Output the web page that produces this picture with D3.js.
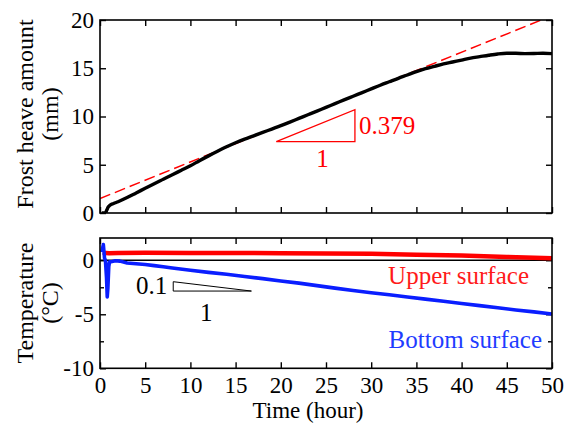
<!DOCTYPE html>
<html>
<head>
<meta charset="utf-8">
<script src="https://cdn.jsdelivr.net/npm/d3@7"></script>
<style>
  html, body { margin: 0; padding: 0; background: #fff; }
  svg { display: block; font-family: "Liberation Serif", "Times New Roman", serif; }
</style>
</head>
<body>
<svg id="chart" width="569" height="426"></svg>
<script>
// ---- data ----
// Frost heave amount (mm) against time (hour)
const heaveTime  = [0.2, 0.6, 0.75, 0.9, 1.1, 1.5, 2, 3, 4, 5, 6, 7, 8, 9, 10, 11, 12, 13, 14, 15, 16, 17, 18, 19, 20, 21, 22, 23, 24, 25, 26, 27, 28, 29, 30, 31, 32, 33, 34, 35, 36, 37, 38, 39, 40, 41, 42, 43, 44, 45, 46, 47, 48, 49, 50];
const heaveValue = [0.0, 0.02, 0.3, 0.6, 0.8, 0.98, 1.17, 1.6, 2.08, 2.56, 3.04, 3.5, 3.96, 4.43, 4.9, 5.42, 5.92, 6.4, 6.86, 7.28, 7.66, 8.0, 8.35, 8.7, 9.05, 9.42, 9.8, 10.18, 10.56, 10.95, 11.33, 11.72, 12.1, 12.48, 12.86, 13.24, 13.6, 13.96, 14.3, 14.65, 14.95, 15.2, 15.45, 15.65, 15.85, 16.05, 16.2, 16.35, 16.48, 16.55, 16.55, 16.52, 16.53, 16.55, 16.52];
// Linear fit of the heave: intercept (mm) and rate (mm/hour)
const fitIntercept = 1.5;
const fitSlope = 0.379;

// Temperatures (°C)
const upperTime  = [0.3, 1, 2, 5, 10, 15, 20, 25, 30, 35, 40, 45, 50];
const upperValue = [0.7, 0.65, 0.68, 0.7, 0.68, 0.68, 0.66, 0.62, 0.6, 0.52, 0.43, 0.3, 0.18];
const bottomTime  = [0.2, 0.37, 0.5, 0.6, 0.72, 0.8, 0.87, 0.97, 1.05, 1.2, 1.7, 2.2, 3, 4, 5, 6, 7, 8, 10, 12, 14, 16, 18, 20, 22, 24, 26, 28, 30, 32, 34, 36, 38, 40, 42, 44, 46, 48, 50];
const bottomValue = [0.75, 1.45, 0.2, 0.0, -1.6, -3.4, -2.6, -0.6, -0.15, -0.15, -0.04, -0.08, -0.25, -0.33, -0.4, -0.5, -0.6, -0.72, -0.93, -1.12, -1.3, -1.5, -1.7, -1.92, -2.12, -2.35, -2.58, -2.8, -3.0, -3.2, -3.4, -3.6, -3.8, -4.0, -4.2, -4.4, -4.6, -4.78, -4.97];
// Cooling rate of the bottom surface (°C/hour)
const coolRate = 0.1;

// Axis ticks
const timeTicks   = [0, 5, 10, 15, 20, 25, 30, 35, 40, 45, 50];
const heaveTicks  = [0, 5, 10, 15, 20];
const tempTicks   = [-10, -5, 0];
const tempMinor   = [-7.5, -2.5];

// ---- layout ----
const svg = d3.select("#chart");
const x = d3.scaleLinear().domain([0, 50]).range([100, 552]);
const yTop = d3.scaleLinear().domain([0, 20]).range([213, 20]);
const yBot = d3.scaleLinear().domain([-10, 2.06]).range([368.3, 238]);

const TICK_FONT = "23px";
const fmt = d => String(d);

function styleAxis(g) {
  g.select(".domain").remove();
  g.selectAll(".tick line").attr("stroke", "#000").attr("stroke-width", 1.4);
  g.selectAll(".tick text").attr("font-size", TICK_FONT).attr("fill", "#000")
    .attr("font-family", "Liberation Serif, Times New Roman, serif");
}

function panel(y, leftTicks, leftMinor, showX) {
  const [y0, y1] = y.range();
  // inward ticks on all four sides
  svg.append("g").attr("transform", `translate(0,${y0})`)
    .call(d3.axisBottom(x).tickValues(timeTicks).tickSize(-6).tickPadding(8)
      .tickFormat(showX ? fmt : () => ""))
    .call(styleAxis);
  svg.append("g").attr("transform", `translate(0,${y1})`)
    .call(d3.axisTop(x).tickValues(timeTicks).tickSize(-6).tickFormat(() => ""))
    .call(styleAxis);
  svg.append("g").attr("transform", `translate(${x.range()[0]},0)`)
    .call(d3.axisLeft(y).tickValues(leftTicks).tickSize(-6).tickPadding(6).tickFormat(fmt))
    .call(styleAxis);
  svg.append("g").attr("transform", `translate(${x.range()[1]},0)`)
    .call(d3.axisRight(y).tickValues(leftTicks).tickSize(-6).tickFormat(() => ""))
    .call(styleAxis);
  if (leftMinor.length) {
    svg.append("g").attr("transform", `translate(${x.range()[0]},0)`)
      .call(d3.axisLeft(y).tickValues(leftMinor).tickSize(-4).tickFormat(() => ""))
      .call(styleAxis);
    svg.append("g").attr("transform", `translate(${x.range()[1]},0)`)
      .call(d3.axisRight(y).tickValues(leftMinor).tickSize(-4).tickFormat(() => ""))
      .call(styleAxis);
  }
}

function frame(y) {
  const [y0, y1] = y.range();
  svg.append("rect")
    .attr("x", x.range()[0]).attr("y", y1)
    .attr("width", x.range()[1] - x.range()[0]).attr("height", y0 - y1)
    .attr("fill", "none").attr("stroke", "#000").attr("stroke-width", 1.6);
}

function clipFor(id, y) {
  const [y0, y1] = y.range();
  svg.append("clipPath").attr("id", id).append("rect")
    .attr("x", x.range()[0]).attr("y", y1)
    .attr("width", x.range()[1] - x.range()[0]).attr("height", y0 - y1);
}

// ---- top panel: frost heave ----
clipFor("clipTop", yTop);
panel(yTop, heaveTicks, [], false);

const gTop = svg.append("g").attr("clip-path", "url(#clipTop)");
const fitT = [0, (20 - fitIntercept) / fitSlope];
gTop.append("line")
  .attr("x1", x(fitT[0])).attr("y1", yTop(fitIntercept + fitSlope * fitT[0]))
  .attr("x2", x(fitT[1])).attr("y2", yTop(fitIntercept + fitSlope * fitT[1]))
  .attr("stroke", "#ff0000").attr("stroke-width", 1.4).attr("stroke-dasharray", "11,5");

const heave = heaveTime.map((t, i) => [t, heaveValue[i]]);
gTop.append("path").datum(heave)
  .attr("fill", "none").attr("stroke", "#000").attr("stroke-width", 3.4)
  .attr("stroke-linejoin", "round")
  .attr("d", d3.line().x(d => x(d[0])).y(d => yTop(d[1])).curve(d3.curveMonotoneX));

frame(yTop);

// slope triangle for the heave rate
const triT0 = 19.5, triSpan = 8.7, triY0 = 7.4;
const triTop = [[triT0, triY0], [triT0 + triSpan, triY0], [triT0 + triSpan, triY0 + fitSlope * triSpan]];
svg.append("path").datum(triTop)
  .attr("fill", "none").attr("stroke", "#ff0000").attr("stroke-width", 1.3)
  .attr("d", d3.line().x(d => x(d[0])).y(d => yTop(d[1])).curve(d3.curveLinearClosed));
svg.append("text")
  .attr("x", x(triT0 + triSpan) + 4).attr("y", yTop(triY0 + fitSlope * triSpan / 2)).attr("dy", "0.35em")
  .attr("fill", "#ff0000").attr("font-size", "25px").text(fitSlope.toFixed(3));
svg.append("text")
  .attr("x", x(triT0 + triSpan * 0.5) + 7).attr("y", yTop(triY0) + 25)
  .attr("text-anchor", "middle").attr("fill", "#ff0000").attr("font-size", "25px").text("1");

// ---- bottom panel: temperatures ----
clipFor("clipBot", yBot);
panel(yBot, tempTicks, tempMinor, true);

const gBot = svg.append("g").attr("clip-path", "url(#clipBot)");
gBot.append("line")
  .attr("x1", x(0)).attr("x2", x(50)).attr("y1", yBot(0)).attr("y2", yBot(0))
  .attr("stroke", "#000").attr("stroke-width", 1.4);

const lineBot = d3.line().x(d => x(d[0])).y(d => yBot(d[1]));
gBot.append("path").datum(upperTime.map((t, i) => [t, upperValue[i]]))
  .attr("fill", "none").attr("stroke", "#ff0000").attr("stroke-width", 4.5)
  .attr("stroke-linejoin", "round").attr("d", lineBot);
gBot.append("path").datum(bottomTime.map((t, i) => [t, bottomValue[i]]))
  .attr("fill", "none").attr("stroke", "#0a1eff").attr("stroke-width", 3.6)
  .attr("stroke-linejoin", "round").attr("d", lineBot);

frame(yBot);

// slope triangle for the cooling rate
const cT0 = 8.1, cSpan = 8.65, cY0 = -2.85;
const triBot = [[cT0, cY0 + coolRate * cSpan], [cT0, cY0], [cT0 + cSpan, cY0]];
svg.append("path").datum(triBot)
  .attr("fill", "none").attr("stroke", "#000").attr("stroke-width", 1)
  .attr("d", d3.line().x(d => x(d[0])).y(d => yBot(d[1])).curve(d3.curveLinearClosed));
svg.append("text")
  .attr("x", x(cT0) - 6).attr("y", yBot(cY0) + 3)
  .attr("text-anchor", "end").attr("fill", "#000").attr("font-size", "25px").text(String(coolRate));
svg.append("text")
  .attr("x", x(cT0 + cSpan * 0.5) - 6).attr("y", yBot(cY0) + 30)
  .attr("text-anchor", "middle").attr("fill", "#000").attr("font-size", "25px").text("1");

// series labels
svg.append("text").attr("x", 529).attr("y", 284).attr("text-anchor", "end")
  .attr("fill", "#ff1a1a").attr("font-size", "25px").text("Upper surface");
svg.append("text").attr("x", 542).attr("y", 348).attr("text-anchor", "end")
  .attr("fill", "#1f3cff").attr("font-size", "25px").text("Bottom surface");

// ---- axis titles ----
svg.append("text").attr("x", 308).attr("y", 418).attr("text-anchor", "middle")
  .attr("font-size", "23px").text("Time (hour)");

function yTitle(lines, cy) {
  const t = svg.append("text").attr("text-anchor", "middle").attr("font-size", "24px")
    .attr("transform", `translate(0,${cy}) rotate(-90)`);
  lines.forEach((s, i) => {
    t.append("tspan").attr("x", 0).attr("y", 33 + i * 25).text(s);
  });
}
yTitle(["Frost heave amount", "(mm)"], 114);
yTitle(["Temperature", "(°C)"], 303);
</script>
</body>
</html>
